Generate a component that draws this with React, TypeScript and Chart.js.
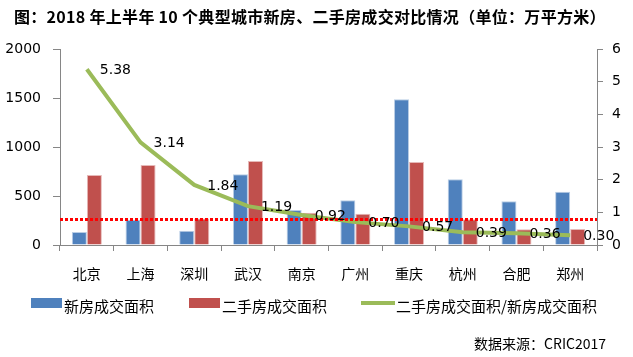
import React, { useEffect, useRef } from "react";
import { Chart, registerables } from "chart.js";

Chart.register(...registerables);

const categories = ["北京", "上海", "深圳", "武汉", "南京", "广州", "重庆", "杭州", "合肥", "郑州"];
const newHouse = [133, 258, 146, 721, 357, 456, 1486, 670, 446, 544];
const secondHand = [714, 816, 270, 858, 330, 318, 848, 262, 160, 164];
const ratio = [5.38, 3.14, 1.84, 1.19, 0.92, 0.7, 0.57, 0.39, 0.36, 0.3];
const leftTicks = [0, 500, 1000, 1500, 2000];
const rightTicks = [0, 1, 2, 3, 4, 5, 6];
const refRatio = [0.81];

const seriesNames = ["新房成交面积", "二手房成交面积", "二手房成交面积/新房成交面积"];
const seriesColors = ["#4F81BD", "#C0504D", "#9BBB59"];
const title = "图：2018 年上半年 10 个典型城市新房、二手房成交对比情况（单位：万平方米）";
const source = "数据来源：CRIC2017";

const NUM_FONT = "'DejaVu Sans', Verdana, sans-serif";
const CJK_FONT = "'Noto Sans CJK SC', 'Noto Sans', sans-serif";
const AXIS = "#868686";

const overlayPlugin = {
  id: "overlay",
  afterDatasetsDraw(chart: any) {
    const ctx = chart.ctx;
    const area = chart.chartArea;
    const y1 = chart.scales.y1;
    ctx.save();
    ctx.strokeStyle = "#FF0000";
    ctx.lineWidth = 3;
    ctx.setLineDash([3, 2]);
    refRatio.forEach((v) => {
      const y = Math.round(y1.getPixelForValue(v)) + 0.5;
      ctx.beginPath();
      ctx.moveTo(area.left, y);
      ctx.lineTo(area.right, y);
      ctx.stroke();
    });
    ctx.restore();
    const meta = chart.getDatasetMeta(2);
    ctx.save();
    ctx.fillStyle = "#000";
    ctx.font = "14px " + NUM_FONT;
    ctx.textAlign = "left";
    ctx.textBaseline = "middle";
    meta.data.forEach((pt: any, i: number) => {
      ctx.fillText(ratio[i].toFixed(2), pt.x + 13, pt.y + 1);
    });
    ctx.restore();
  },
};

export default function App() {
  const ref = useRef<HTMLCanvasElement | null>(null);
  useEffect(() => {
    if (!ref.current) return;
    const chart = new Chart(ref.current, {
      type: "bar",
      data: {
        labels: categories,
        datasets: [
          {
            type: "bar",
            label: seriesNames[0],
            data: newHouse,
            backgroundColor: seriesColors[0],
            borderColor: "#b9cde5",
            borderWidth: 1,
            yAxisID: "y",
            order: 2,
            barPercentage: 1,
            categoryPercentage: 0.56,
          },
          {
            type: "bar",
            label: seriesNames[1],
            data: secondHand,
            backgroundColor: seriesColors[1],
            borderColor: "#e6b9b8",
            borderWidth: 1,
            yAxisID: "y",
            order: 2,
            barPercentage: 1,
            categoryPercentage: 0.56,
          },
          {
            type: "line",
            label: seriesNames[2],
            data: ratio,
            borderColor: seriesColors[2],
            backgroundColor: seriesColors[2],
            borderWidth: 4,
            pointRadius: 0,
            tension: 0,
            yAxisID: "y1",
            order: 1,
          } as any,
        ],
      },
      options: {
        responsive: false,
        animation: false,
        layout: { padding: { top: 49, bottom: 72, left: 0, right: 0 } },
        plugins: {
          legend: { display: false },
          tooltip: { enabled: false },
          title: { display: false },
        },
        scales: {
          x: {
            grid: {
              display: true,
              drawOnChartArea: false,
              drawTicks: true,
              tickLength: 6,
              color: AXIS,
              offset: true,
            },
            border: { display: true, color: AXIS, width: 1 },
            ticks: {
              color: "#000",
              font: { family: CJK_FONT, size: 14 },
              padding: 14,
              maxRotation: 0,
            },
            afterFit: (s: any) => {
              s.height = 40;
            },
          },
          y: {
            position: "left",
            min: leftTicks[0],
            max: leftTicks[leftTicks.length - 1],
            afterBuildTicks: (s: any) => {
              s.ticks = leftTicks.map((v) => ({ value: v }));
            },
            grid: {
              display: true,
              drawOnChartArea: false,
              drawTicks: true,
              tickLength: 7,
              color: AXIS,
            },
            border: { display: true, color: AXIS, width: 1 },
            ticks: {
              color: "#000",
              font: { family: NUM_FONT, size: 14 },
              padding: 12,
              callback: (v: any) => String(v),
            },
            afterFit: (s: any) => {
              s.width = 60;
            },
          },
          y1: {
            position: "right",
            min: rightTicks[0],
            max: rightTicks[rightTicks.length - 1],
            afterBuildTicks: (s: any) => {
              s.ticks = rightTicks.map((v) => ({ value: v }));
            },
            grid: {
              display: true,
              drawOnChartArea: false,
              drawTicks: true,
              tickLength: 6,
              color: AXIS,
            },
            border: { display: true, color: AXIS, width: 1 },
            ticks: {
              color: "#000",
              font: { family: NUM_FONT, size: 14 },
              padding: 9,
              callback: (v: any) => String(v),
            },
            afterFit: (s: any) => {
              s.width = 36;
            },
          },
        },
      },
      plugins: [overlayPlugin],
    });
    return () => chart.destroy();
  }, []);

  const legendItems = [
    { kind: "box", x: 31, textX: 64 },
    { kind: "box", x: 189, textX: 222 },
    { kind: "line", x: 361, textX: 396 },
  ];

  return (
    <div style={{ position: "absolute", left: 0, top: 0, width: 633, height: 357, background: "#fff" }}>
      <canvas ref={ref} width={633} height={357} style={{ position: "absolute", left: 0, top: 0, width: 633, height: 357 }} />
      <div
        style={{
          position: "absolute",
          left: 14,
          top: 4,
          fontFamily: CJK_FONT,
          fontWeight: "bold",
          fontSize: 16,
          lineHeight: "24px",
          letterSpacing: "0.3px",
          color: "#000",
          whiteSpace: "nowrap",
        }}
      >
        {title}
      </div>
      {legendItems.map((it, i) => (
        <React.Fragment key={i}>
          {it.kind === "box" ? (
            <div style={{ position: "absolute", left: it.x, top: 298, width: 31, height: 10, background: seriesColors[i] }} />
          ) : (
            <div style={{ position: "absolute", left: it.x, top: 301, width: 34, height: 4, background: seriesColors[i] }} />
          )}
          <div
            style={{
              position: "absolute",
              left: it.textX,
              top: 295,
              fontFamily: CJK_FONT,
              fontSize: 15,
              lineHeight: "22px",
              color: "#000",
              whiteSpace: "nowrap",
            }}
          >
            {seriesNames[i]}
          </div>
        </React.Fragment>
      ))}
      <div
        style={{
          position: "absolute",
          right: 633 - 606,
          top: 333,
          fontFamily: CJK_FONT,
          fontSize: 14,
          lineHeight: "20px",
          color: "#000",
          whiteSpace: "nowrap",
        }}
      >
        {source}
      </div>
    </div>
  );
}
